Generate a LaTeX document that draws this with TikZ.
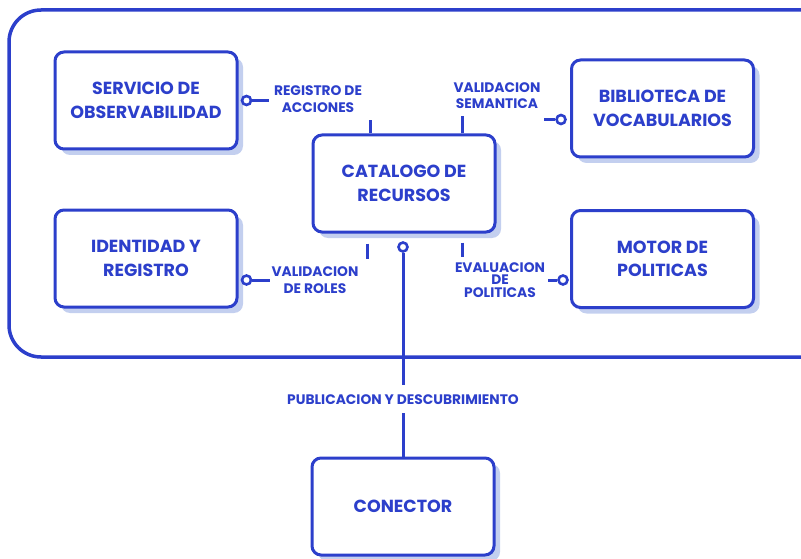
\documentclass[tikz,border=0pt]{standalone}
\usepackage{fontspec}
\setmainfont{Poppins}
\usetikzlibrary{shadows}
\definecolor{ink}{HTML}{2C3FCB}
\definecolor{shade}{HTML}{C3CFEF}
\tikzset{
  box/.style={draw=ink, line width=3pt, rounded corners=9pt, fill=white,
    minimum width=182pt, minimum height=97pt, align=center, text=ink,
    font=\fontsize{17.5}{23.5}\selectfont\bfseries,
    drop shadow={shadow xshift=6pt, shadow yshift=-6pt, fill=shade, opacity=1}},
  lab/.style={text=ink, align=center, font=\fontsize{13.8}{16.5}\selectfont\bfseries, inner sep=0pt},
  wire/.style={draw=ink, line width=3pt},
  port/.style={circle, draw=ink, fill=white, line width=2.6pt, minimum size=9pt, inner sep=0pt},
}
\begin{document}
\begin{tikzpicture}[x=1pt, y=-1pt]
\useasboundingbox (0,0) rectangle (801,559);
\begin{scope}
\clip (0,0) rectangle (801,559);
% outer container
\draw[ink, line width=3.5pt, rounded corners=32pt] (9,10) rectangle (840,357);
\end{scope}

% component boxes
\node[box] (obs) at (146,100.5) {SERVICIO DE\\OBSERVABILIDAD};
\node[box] (bib) at (662.5,108.5) {BIBLIOTECA DE\\VOCABULARIOS};
\node[box] (cat) at (404,183.5) {CATALOGO DE\\RECURSOS};
\node[box] (ide) at (146,258.5) {IDENTIDAD Y\\REGISTRO};
\node[box] (mot) at (662.5,259) {MOTOR DE\\POLITICAS};
\node[box] (con) at (403,506.5) {CONECTOR};

% interface ports
\node[port] (pobs) at ([xshift=8pt]obs.east) {};
\node[port] (pbib) at ([xshift=-9pt,yshift=-11pt]bib.west) {};
\node[port] (pide) at ([xshift=8pt,yshift=-21.5pt]ide.east) {};
\node[port] (pmot) at ([xshift=-7pt,yshift=-21pt]mot.west) {};
\node[port] (pcat) at (403,247) {};

% labels
\node[lab] (lreg) at (318,99) {REGISTRO DE\\ACCIONES};
\node[lab] (lsem) at (497,95.5) {VALIDACION\\SEMANTICA};
\node[lab] (lrol) at (315,280) {VALIDACION\\DE ROLES};
\node[lab, font=\fontsize{13.8}{12.5}\selectfont\bfseries] (lpol) at (500,280) {EVALUACION\\DE\\POLITICAS};
\node[lab] (lpub) at (403,400) {PUBLICACION Y DESCUBRIMIENTO};

% port stubs
\draw[wire] (pobs.east) -- ++(17,0);
\draw[wire] (pbib.west) -- ++(-11,0);
\draw[wire] (pide.east) -- ++(18,0);
\draw[wire] (pmot.west) -- ++(-9,0);

% stubs on the catalogue
\draw[wire] (cat.north -| 370,0) -- ++(0,-13);
\draw[wire] (cat.north -| 462,0) -- ++(0,-17);
\draw[wire] ([yshift=-10pt]cat.south -| 367,0) -- ++(0,15);
\draw[wire] ([yshift=-9pt]cat.south -| 462,0) -- ++(0,14);

% publication link to the connector
\draw[wire] (pcat.south) -- (lpub.north |- 0,385);
\draw[wire] (lpub.south |- 0,413) -- (con.north);
\end{tikzpicture}
\end{document}
